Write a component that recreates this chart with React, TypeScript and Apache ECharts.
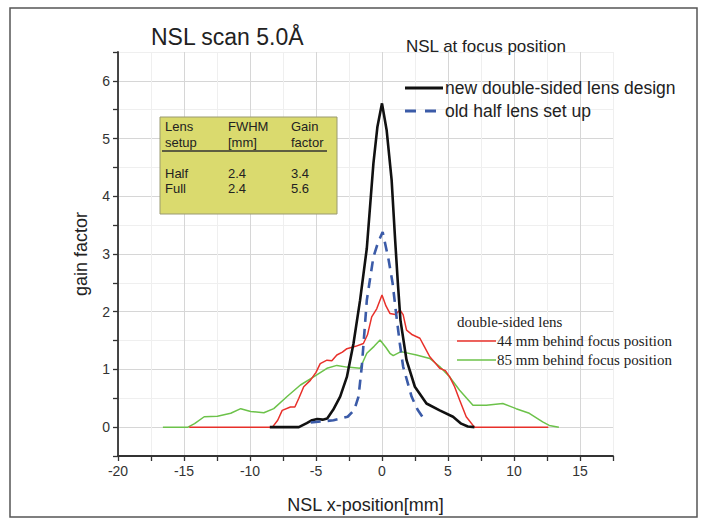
import React, { useEffect, useRef } from "react";
import * as echarts from "echarts";

const newX = [-8.5, -6.3, -5.7, -5.3, -4.9, -4.5, -4.15, -3.7, -3.17, -2.66, -2.16, -1.66, -1.15, -0.65, -0.35, 0, 0.35, 0.73, 0.98, 1.2, 1.4, 1.86, 2.49, 3.37, 4.37, 5.38, 6.0, 6.5, 7.0];
const newY = [0, 0, 0.07, 0.12, 0.14, 0.13, 0.15, 0.3, 0.53, 0.87, 1.45, 2.2, 3.1, 4.57, 5.2, 5.61, 5.15, 4.28, 3.3, 2.5, 1.85, 1.16, 0.7, 0.41, 0.29, 0.18, 0.06, 0.01, 0];

const oldX = [-5.4, -4.5, -3.67, -2.6, -2.1, -1.78, -1.53, -1.15, -0.65, -0.3, 0.05, 0.5, 0.8, 1.1, 1.35, 1.6, 2.24, 2.7, 3.12];
const oldY = [0.08, 0.1, 0.12, 0.18, 0.3, 0.53, 1.05, 2.2, 2.95, 3.2, 3.38, 2.9, 2.5, 1.91, 1.45, 1.05, 0.53, 0.3, 0.16];

const r44X = [-14.6, -8.3, -7.9, -7.56, -6.94, -6.6, -6.3, -5.93, -5.43, -5.0, -4.68, -4.17, -3.8, -3.42, -3.0, -2.66, -2.0, -1.41, -1.1, -0.78, -0.4, 0, 0.3, 0.6, 1.0, 1.36, 1.6, 1.86, 2.3, 2.87, 3.2, 3.62, 4.0, 4.37, 4.8, 5.13, 5.5, 5.88, 6.38, 7.0, 12.6];
const r44Y = [0, 0, 0.12, 0.29, 0.35, 0.35, 0.5, 0.7, 0.81, 0.95, 1.1, 1.16, 1.15, 1.25, 1.3, 1.36, 1.4, 1.45, 1.6, 1.91, 2.05, 2.29, 2.1, 1.97, 1.95, 2.03, 1.95, 1.68, 1.6, 1.54, 1.4, 1.22, 1.12, 1.02, 0.98, 0.87, 0.7, 0.47, 0.18, 0, 0];

const r85X = [-16.6, -14.7, -14.2, -13.47, -12.47, -11.46, -10.7, -9.95, -8.95, -8.2, -7.19, -6.18, -5.18, -4.17, -3.42, -2.66, -1.66, -1.15, -0.6, -0.15, 0.3, 0.6, 0.85, 1.36, 1.6, 2.61, 3.62, 4.37, 5.13, 5.88, 6.89, 7.9, 9.15, 10.16, 11.16, 12.17, 12.67, 13.4];
const r85Y = [0, 0, 0.06, 0.18, 0.19, 0.24, 0.32, 0.27, 0.25, 0.32, 0.53, 0.73, 0.87, 1.02, 1.07, 1.04, 1.02, 1.28, 1.4, 1.51, 1.38, 1.28, 1.24, 1.3, 1.3, 1.25, 1.19, 1.05, 0.87, 0.64, 0.38, 0.38, 0.41, 0.32, 0.24, 0.09, 0.03, 0];

const tableHeader = [["Lens", "setup"], ["FWHM", "[mm]"], ["Gain", "factor"]];
const tableRows = [["Half", "2.4", "3.4"], ["Full", "2.4", "5.6"]];

const legendMain = ["new double-sided lens design", "old half lens set up"];
const legendSub = ["44 mm behind focus position", "85 mm behind focus position"];

const zip = (xs: number[], ys: number[]) => xs.map((x, i) => [x, ys[i]]);

const SANS = "Liberation Sans";
const SERIF = "Liberation Serif";

const txt = (x: number, y: number, text: string, size: number, family = SANS) => ({
  type: "text",
  x,
  y,
  z: 100,
  style: { text, fontSize: size, fontFamily: family, fill: "#222", verticalAlign: "middle", align: "left" },
});

export default function App() {
  const ref = useRef<HTMLDivElement>(null);
  useEffect(() => {
    const chart = echarts.init(ref.current!, null, { renderer: "svg" });
    const colX = [165, 228, 291];
    const tableTexts: any[] = [];
    tableHeader.forEach((h, i) => {
      tableTexts.push(txt(colX[i], 126, h[0], 13));
      tableTexts.push(txt(colX[i], 142, h[1], 13));
    });
    tableRows.forEach((r, j) => {
      r.forEach((t, i) => tableTexts.push(txt(colX[i], 173 + j * 15.5, t, 13)));
    });
    chart.setOption({
      animation: false,
      backgroundColor: "#fff",
      grid: { left: 118, top: 52, width: 495, height: 404, containLabel: false },
      xAxis: {
        type: "value",
        min: -20,
        max: 17.5,
        interval: 2.5,
        name: "NSL x-position[mm]",
        nameLocation: "middle",
        nameGap: 40,
        nameTextStyle: { fontSize: 18, color: "#222", fontFamily: SANS },
        axisLine: { onZero: false, lineStyle: { color: "#333", width: 1.8 } },
        axisTick: { show: true, length: 5, lineStyle: { color: "#333", width: 1.3 } },
        axisLabel: {
          fontSize: 14,
          color: "#333",
          fontFamily: SANS,
          margin: 8,
          formatter: (v: number) => (Math.abs(v % 5) < 1e-9 ? String(v) : ""),
        },
        splitLine: { show: true, lineStyle: { color: ["#d6d6d6", "#efefef"], width: 1 } },
      },
      yAxis: {
        type: "value",
        min: -0.5,
        max: 6.5,
        interval: 0.5,
        name: "gain factor",
        nameLocation: "middle",
        nameGap: 28,
        nameTextStyle: { fontSize: 18, color: "#222", fontFamily: SANS },
        axisLine: { show: true, onZero: false, lineStyle: { color: "#333", width: 1.8 } },
        axisTick: { show: true, length: 5, lineStyle: { color: "#333", width: 1.3 } },
        axisLabel: {
          fontSize: 14,
          color: "#333",
          fontFamily: SANS,
          margin: 8,
          formatter: (v: number) => (Math.abs(v % 1) < 1e-9 ? String(v) : ""),
        },
        splitLine: { show: true, lineStyle: { color: ["#efefef", "#d6d6d6"], width: 1 } },
      },
      series: [
        { name: legendSub[1], type: "line", data: zip(r85X, r85Y), showSymbol: false, symbol: "none", lineStyle: { color: "#6cc24a", width: 1.5 }, z: 2 },
        { name: legendSub[0], type: "line", data: zip(r44X, r44Y), showSymbol: false, symbol: "none", lineStyle: { color: "#e8302a", width: 1.5 }, z: 3 },
        { name: legendMain[0], type: "line", data: zip(newX, newY), showSymbol: false, symbol: "none", lineStyle: { color: "#111", width: 2.6 }, z: 4 },
        { name: legendMain[1], type: "line", data: zip(oldX, oldY), showSymbol: false, symbol: "none", lineStyle: { color: "#3b5ba8", width: 2.6, type: [10, 7] }, z: 5 },
      ],
      graphic: [
        { type: "rect", z: 100, shape: { x: 10, y: 8, width: 687, height: 509 }, style: { fill: "none", stroke: "#555", lineWidth: 1.5 }, silent: true },
        txt(151, 37, "NSL scan 5.0Å", 23),
        txt(406, 46, "NSL at focus position", 17),
        { type: "line", z: 100, shape: { x1: 405, y1: 88, x2: 443, y2: 88 }, style: { stroke: "#111", lineWidth: 3 } },
        txt(445, 88, legendMain[0], 17.5),
        { type: "line", z: 100, shape: { x1: 405, y1: 111, x2: 438, y2: 111 }, style: { stroke: "#3b5ba8", lineWidth: 3, lineDash: [11, 9] } },
        txt(445, 111, legendMain[1], 17.5),
        { type: "rect", z: 99, shape: { x: 160, y: 117, width: 177, height: 97 }, style: { fill: "#dada6e", stroke: "#9a9a70", lineWidth: 1 } },
        { type: "line", z: 100, shape: { x1: 162, y1: 151, x2: 327, y2: 151 }, style: { stroke: "#333", lineWidth: 1.5 } },
        ...tableTexts,
        txt(457, 322, "double-sided lens", 15, SERIF),
        { type: "line", z: 100, shape: { x1: 457, y1: 341, x2: 496, y2: 341 }, style: { stroke: "#e8302a", lineWidth: 1.5 } },
        txt(497, 341, legendSub[0], 15, SERIF),
        { type: "line", z: 100, shape: { x1: 457, y1: 360, x2: 496, y2: 360 }, style: { stroke: "#6cc24a", lineWidth: 1.5 } },
        txt(497, 360, legendSub[1], 15, SERIF),
      ],
    });
    return () => chart.dispose();
  }, []);
  return <div ref={ref} style={{ position: "absolute", left: 0, top: 0, width: 707, height: 525 }} />;
}
